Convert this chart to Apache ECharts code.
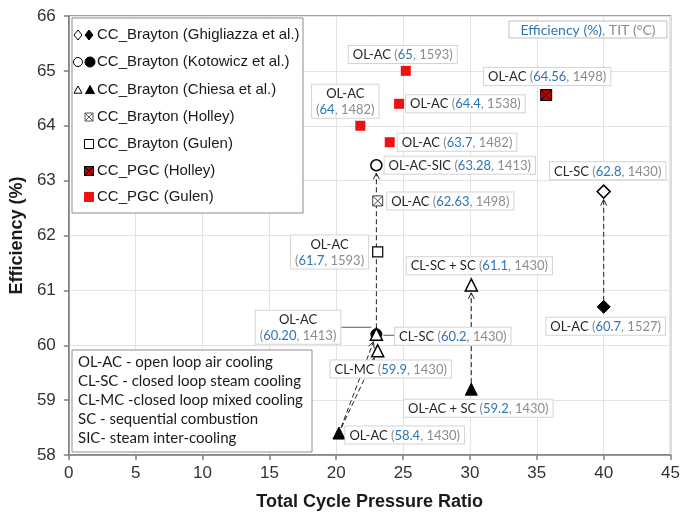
<!DOCTYPE html>
<html><head><meta charset="utf-8">
<script src="https://cdn.jsdelivr.net/npm/echarts@6/dist/echarts.min.js"></script>
<style>html,body{margin:0;padding:0;background:#fff}#c{width:683px;height:518px}</style>
</head><body><div id="c"></div>
<script>
// ---------------- DATA ----------------
// [total cycle pressure ratio, efficiency %]
const ghigliazzaOpen   = [[40.0, 62.8]];
const ghigliazzaFilled = [[40.0, 60.7]];
const kotowiczOpen     = [[23.0, 63.28]];
const kotowiczFilled   = [[23.0, 60.2]];
const chiesaOpen       = [[30.1, 61.1], [23.0, 60.2], [23.1, 59.9]];
const chiesaFilled     = [[30.1, 59.2], [20.2, 58.4]];
const holleyBrayton    = [[23.1, 62.63]];
const gulenBrayton     = [[23.1, 61.7]];
const holleyPGC        = [[35.7, 64.56]];
const gulenPGC         = [[25.2, 65.0], [21.8, 64.0], [24.7, 64.4], [24.0, 63.7]];

// [cooling type, efficiency text, TIT °C]
const ghigliazzaOpenInfo   = [['CL-SC', '62.8', 1430]];
const ghigliazzaFilledInfo = [['OL-AC', '60.7', 1527]];
const kotowiczOpenInfo     = [['OL-AC-SIC', '63.28', 1413]];
const kotowiczFilledInfo   = [['OL-AC', '60.20', 1413]];
const chiesaOpenInfo       = [['CL-SC + SC', '61.1', 1430], ['CL-SC', '60.2', 1430], ['CL-MC', '59.9', 1430]];
const chiesaFilledInfo     = [['OL-AC + SC', '59.2', 1430], ['OL-AC', '58.4', 1430]];
const holleyBraytonInfo    = [['OL-AC', '62.63', 1498]];
const gulenBraytonInfo     = [['OL-AC', '61.7', 1593]];
const holleyPGCInfo        = [['OL-AC', '64.56', 1498]];
const gulenPGCInfo         = [['OL-AC', '65', 1593], ['OL-AC', '64', 1482], ['OL-AC', '64.4', 1538], ['OL-AC', '63.7', 1482]];

const legendNames = ['CC_Brayton (Ghigliazza et al.)', 'CC_Brayton (Kotowicz et al.)', 'CC_Brayton (Chiesa et al.)',
  'CC_Brayton (Holley)', 'CC_Brayton (Gulen)', 'CC_PGC (Holley)', 'CC_PGC (Gulen)'];
const noteLines = ['OL-AC - open loop air cooling', 'CL-SC - closed loop steam cooling',
  'CL-MC -closed loop mixed cooling', 'SC - sequential combustion', 'SIC- steam inter-cooling'];

// arrows: from -> to (derived from the data points)
const arrowPairs = [
  [ghigliazzaFilled[0], ghigliazzaOpen[0]],
  [chiesaFilled[0], chiesaOpen[0]],
  [kotowiczFilled[0], kotowiczOpen[0]],
  [chiesaFilled[1], chiesaOpen[1]],
  [chiesaFilled[1], chiesaOpen[2]]
];
// leader lines attach to these points
const leaderPoints = [kotowiczFilled[0], chiesaOpen[1]];

// ---------------- STYLE ----------------
const LBL = {
  ghigliazzaOpen:   [{pos:'top', d:5, off:[4,0]}],
  ghigliazzaFilled: [{pos:'bottom', d:4, off:[2,0]}],
  kotowiczOpen:     [{pos:'right', d:2, off:[0,0]}],
  kotowiczFilled:   [{pos:'left', d:30, off:[0,-7], two:true}],
  chiesaOpen:       [{pos:'top', d:4, off:[8,0]}, {pos:'right', d:12, off:[0,2]}, {pos:'bottom', d:3, off:[13,0]}],
  chiesaFilled:     [{pos:'bottom', d:4, off:[7,0]}, {pos:'right', d:0, off:[0,2]}],
  holleyBrayton:    [{pos:'right', d:4, off:[0,0]}],
  gulenBrayton:     [{pos:'left', d:4, off:[0,0], two:true}],
  holleyPGC:        [{pos:'top', d:4, off:[1,0]}],
  gulenPGC:         [{pos:'top', d:3, off:[-3,0]}, {pos:'top', d:3, off:[-15,0], two:true}, {pos:'right', d:2, off:[0,0]}, {pos:'right', d:3, off:[0,0]}]
};
const leaderOffsets = [[-5,-7,-35,-7],[7,1,19,1]];

const LF = 'Lato, "Open Sans", sans-serif';
const AF = '"Liberation Sans", Arial, sans-serif';
const rich = {
  a: {color:'#262626', fontFamily:LF, fontSize:13, lineHeight:16, align:'center'},
  b: {color:'#2e75b6', fontFamily:LF, fontSize:13, lineHeight:16, align:'center'},
  c: {color:'#8c8c8c', fontFamily:LF, fontSize:13, lineHeight:16, align:'center'}
};
function fmt(info, two) {
  return '{a|' + info[0] + '}' + (two ? '\n' : '{a| }') + '{c|(}{b|' + info[1] + '}{c|, ' + info[2] + ')}';
}
const XBOX = 'path://M0,0H10V10H0Z M0,0L10,10 M10,0L0,10';

function sc(name, data, info, labs, symbol, size, itemStyle, z) {
  return {
    type:'scatter', name, symbol, symbolSize:size, z, itemStyle:Object.assign({opacity:1}, itemStyle),
    data: data.map((d,i)=>({
      value:d,
      label:{show:true, position:labs[i].pos, distance:labs[i].d, offset:labs[i].off,
        formatter: fmt(info[i], labs[i].two)}
    })),
    label:{show:true, backgroundColor:'#fff', borderColor:'#d4d4d4', borderWidth:1,
      padding:[1,4,0,4], fontFamily:LF, fontSize:13, lineHeight:16, rich},
    emphasis:{disabled:true}
  };
}
const openS = {color:'#fff', borderColor:'#000', borderWidth:1.5};
const fillS = {color:'#000', borderColor:'#000', borderWidth:1};

function renderArrow(params, api) {
  const p1 = api.coord([api.value(0), api.value(1)]);
  const p2 = api.coord([api.value(2), api.value(3)]);
  const dx = p2[0]-p1[0], dy = p2[1]-p1[1], L = Math.hypot(dx,dy);
  const ux = dx/L, uy = dy/L;
  const s = [p1[0]+ux*6, p1[1]+uy*6], e = [p2[0]-ux*8, p2[1]-uy*8];
  const h = 6, w = 3;
  const b = [e[0]-ux*h, e[1]-uy*h];
  return {type:'group', children:[
    {type:'line', shape:{x1:s[0], y1:s[1], x2:e[0], y2:e[1]}, style:{stroke:'#222', lineWidth:1, lineDash:[5,3]}},
    {type:'polyline', shape:{points:[[b[0]-uy*w, b[1]+ux*w], e, [b[0]+uy*w, b[1]-ux*w]]}, style:{stroke:'#222', lineWidth:1, fill:null}}
  ]};
}
function renderLeader(params, api) {
  const p = api.coord([api.value(0), api.value(1)]);
  const o = leaderOffsets[params.dataIndex];
  return {type:'line', shape:{x1:p[0]+o[0], y1:p[1]+o[1], x2:p[0]+o[2], y2:p[1]+o[3]}, style:{stroke:'#595959', lineWidth:1}};
}

// ---------------- LEGEND GRAPHIC ----------------
const G = [];
G.push({type:'rect', shape:{x:72, y:18, width:231, height:195}, style:{fill:'#fff', stroke:'#8c8c8c', lineWidth:1}, z:10});
const rowY = [35, 62, 90, 117, 144, 171, 197];
function diamond(cx, cy, r, st){ return {type:'polygon', shape:{points:[[cx,cy-r],[cx+r*0.8,cy],[cx,cy+r],[cx-r*0.8,cy]]}, style:st, z:11}; }
function tri(cx, cy, r, st){ return {type:'polygon', shape:{points:[[cx,cy-r],[cx+r,cy+r*0.8],[cx-r,cy+r*0.8]]}, style:st, z:11}; }
const oSt = {fill:'#fff', stroke:'#000', lineWidth:1};
const fSt = {fill:'#000', stroke:'#000', lineWidth:1};
G.push(diamond(78, rowY[0], 5, oSt), diamond(89, rowY[0], 5, fSt));
G.push({type:'circle', shape:{cx:78, cy:rowY[1], r:4.5}, style:oSt, z:11}, {type:'circle', shape:{cx:90, cy:rowY[1], r:5}, style:fSt, z:11});
G.push(tri(78, rowY[2], 4, oSt), tri(90, rowY[2], 4.5, fSt));
G.push({type:'rect', shape:{x:85, y:rowY[3]-4, width:8, height:8}, style:{fill:'#fff', stroke:'#555', lineWidth:1}, z:11});
G.push({type:'polyline', shape:{points:[[85,rowY[3]-4],[93,rowY[3]+4]]}, style:{stroke:'#555', lineWidth:1, fill:null}, z:11});
G.push({type:'polyline', shape:{points:[[93,rowY[3]-4],[85,rowY[3]+4]]}, style:{stroke:'#555', lineWidth:1, fill:null}, z:11});
G.push({type:'rect', shape:{x:84.5, y:rowY[4]-4.5, width:9, height:9}, style:{fill:'#fff', stroke:'#000', lineWidth:1}, z:11});
G.push({type:'rect', shape:{x:84.5, y:rowY[5]-4.5, width:9, height:9}, style:{fill:'#c00000', stroke:'#000', lineWidth:1}, z:11});
G.push({type:'polyline', shape:{points:[[84.5,rowY[5]-4.5],[93.5,rowY[5]+4.5]]}, style:{stroke:'#000', lineWidth:1, fill:null}, z:11});
G.push({type:'polyline', shape:{points:[[93.5,rowY[5]-4.5],[84.5,rowY[5]+4.5]]}, style:{stroke:'#000', lineWidth:1, fill:null}, z:11});
G.push({type:'rect', shape:{x:84.5, y:rowY[6]-4.5, width:9, height:9}, style:{fill:'#ee1111', stroke:'#ee1111', lineWidth:1}, z:11});
legendNames.forEach((n,i)=>G.push({type:'text', x:97, y:rowY[i], z:11,
  style:{text:n, font:'15px "Liberation Sans", Arial, sans-serif', fill:'#1a1a1a', verticalAlign:'middle', align:'left'}}));
// notes box
G.push({type:'rect', shape:{x:72, y:350, width:240, height:102}, style:{fill:'#fff', stroke:'#8c8c8c', lineWidth:1}, z:10});
noteLines.forEach((t,i)=>G.push({type:'text', x:78, y:362+i*19, z:11,
  style:{text:t, font:'15px Lato, sans-serif', fill:'#1a1a1a', verticalAlign:'middle', align:'left'}}));
// efficiency / TIT key
G.push({type:'rect', shape:{x:509, y:21, width:158, height:17}, style:{fill:'#fff', stroke:'#bfbfbf', lineWidth:1}, z:10});
G.push({type:'text', x:588, y:30, z:11, style:{text:'{b|Efficiency (%)}{c|, TIT (°C)}', align:'center', verticalAlign:'middle',
  rich:{b:{fill:'#2e75b6', font:'14px Lato, sans-serif'}, c:{fill:'#8c8c8c', font:'14px Lato, sans-serif'}}}});

// ---------------- CHART ----------------
const chart = echarts.init(document.getElementById('c'), null, {renderer:'canvas'});
chart.setOption({
  animation:false,
  backgroundColor:'#fff',
  grid:{left:68, right:11, top:16, bottom:63, show:true, borderColor:'#808080', borderWidth:1.5, backgroundColor:'transparent'},
  xAxis:{type:'value', min:0, max:45, interval:5,
    name:'Total Cycle Pressure Ratio', nameLocation:'middle', nameGap:38,
    nameTextStyle:{fontFamily:AF, fontSize:18, fontWeight:'bold', color:'#1a1a1a'},
    axisLine:{show:true, lineStyle:{color:'#808080', width:1.5}},
    axisTick:{show:true, length:5, lineStyle:{color:'#808080', width:1.5}},
    axisLabel:{fontFamily:AF, fontSize:17, color:'#333', margin:10},
    splitLine:{show:true, lineStyle:{color:'#e3e3e3', width:1}}},
  yAxis:{type:'value', min:58, max:66, interval:1,
    name:'Efficiency (%)', nameLocation:'middle', nameGap:41,
    nameTextStyle:{fontFamily:AF, fontSize:18, fontWeight:'bold', color:'#1a1a1a'},
    axisLine:{show:true, lineStyle:{color:'#808080', width:1.5}},
    axisTick:{show:true, length:5, lineStyle:{color:'#808080', width:1.5}},
    axisLabel:{fontFamily:AF, fontSize:17, color:'#333', margin:13},
    splitLine:{show:true, lineStyle:{color:'#e3e3e3', width:1}}},
  graphic:G,
  series:[
    {type:'custom', name:'arrows', coordinateSystem:'cartesian2d', renderItem:renderArrow, z:1,
      encode:{x:[0,2], y:[1,3]}, data:arrowPairs.map(p=>[p[0][0], p[0][1], p[1][0], p[1][1]]), silent:true},
    {type:'custom', name:'leaders', coordinateSystem:'cartesian2d', renderItem:renderLeader, z:1,
      encode:{x:0, y:1}, data:leaderPoints.map(p=>[p[0], p[1]]), silent:true},
    sc('Gulen PGC', gulenPGC, gulenPGCInfo, LBL.gulenPGC, 'rect', 10, {color:'#ee1111'}, 3),
    sc('Holley PGC', holleyPGC, holleyPGCInfo, LBL.holleyPGC, XBOX, 11, {color:'#c00000', borderColor:'#000', borderWidth:1}, 3),
    sc('Gulen Brayton', gulenBrayton, gulenBraytonInfo, LBL.gulenBrayton, 'rect', 10, {color:'#fff', borderColor:'#000', borderWidth:1.2}, 3),
    sc('Holley Brayton', holleyBrayton, holleyBraytonInfo, LBL.holleyBrayton, XBOX, 10, {color:'#fff', borderColor:'#404040', borderWidth:1}, 3),
    sc('Kotowicz filled', kotowiczFilled, kotowiczFilledInfo, LBL.kotowiczFilled, 'circle', 11, fillS, 3),
    sc('Kotowicz open', kotowiczOpen, kotowiczOpenInfo, LBL.kotowiczOpen, 'circle', 11, openS, 3),
    sc('Chiesa filled', chiesaFilled, chiesaFilledInfo, LBL.chiesaFilled, 'triangle', 12, fillS, 4),
    sc('Chiesa open', chiesaOpen, chiesaOpenInfo, LBL.chiesaOpen, 'triangle', 12, openS, 4),
    sc('Ghigliazza filled', ghigliazzaFilled, ghigliazzaFilledInfo, LBL.ghigliazzaFilled, 'diamond', 13, fillS, 4),
    sc('Ghigliazza open', ghigliazzaOpen, ghigliazzaOpenInfo, LBL.ghigliazzaOpen, 'diamond', 13, openS, 4)
  ]
});
</script></body></html>
